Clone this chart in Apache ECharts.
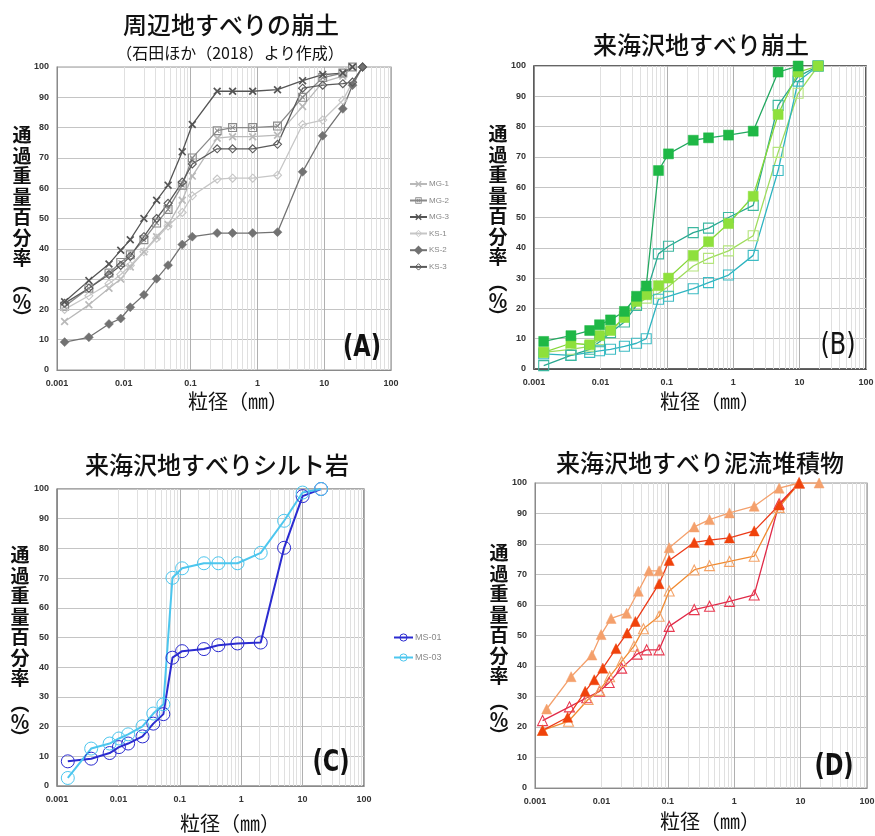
<!DOCTYPE html>
<html>
<head>
<meta charset="utf-8">
<script src="https://cdn.jsdelivr.net/npm/echarts@6/dist/echarts.min.js"></script>
<style>
html, body { margin: 0; padding: 0; background: #fff; }
#chart { width: 875px; height: 836px; }
</style>
</head>
<body>
<div id="chart"></div>
<script>
// ---- grain size (mm) and percent passing ----
// (A) nearby landslide debris
const sizesA = [0.0013, 0.003, 0.006, 0.009, 0.0125, 0.02, 0.031, 0.046, 0.075, 0.106, 0.25, 0.425, 0.85, 2, 4.75, 9.5, 19, 26.5, 37.5];
const mg1 = [16, 21.5, 27, 30, 34, 39, 44, 48, 56, 64, 76.5, 77, 77, 77.5, 87, 95, 97, 100];
const mg2 = [21, 27, 32, 35.5, 38, 43, 48.5, 53, 61, 70, 79, 80, 80, 80.5, 90, 96.5, 98, 100];
const mg3 = [22.5, 29.5, 35, 39.5, 43, 50, 56, 61, 72, 81, 92, 92, 92, 92.5, 95.5, 97.5, 98, 100];
const ks1 = [20, 24.5, 28.5, 31.5, 34.5, 39, 43.5, 47.5, 52, 57.5, 63, 63.3, 63.3, 64.3, 81, 82.5, 89, 95, 100];
const ks2 = [9.2, 10.8, 15.2, 17, 20.7, 24.8, 30.1, 34.6, 41.4, 44, 45.2, 45.2, 45.2, 45.5, 65.4, 77.3, 86.2, 94, 100];
const ks3 = [22, 27, 31.5, 34.5, 37.5, 44, 50, 55, 62, 68, 73, 73, 73, 74.5, 93, 94, 94.5, 95, 100];

// (B) Kimizawa landslide debris
const sizesB = [0.0014, 0.0036, 0.0069, 0.0097, 0.0142, 0.023, 0.035, 0.049, 0.075, 0.106, 0.25, 0.425, 0.85, 2, 4.75, 9.5, 19];
const kd1 = [9.1, 11, 12.7, 14.6, 16.2, 19, 24, 27.4, 65.5, 71, 75.5, 76.3, 77.2, 78.5, 98, 100];
const kd2 = [5.5, 8.5, 8, 11, 12.7, 17, 22.3, 24.5, 27.5, 30, 37.5, 42, 48, 57, 84, 98, 100];
const kd3 = [1.1, 4.5, 6.5, 9, 12, 15.5, 21, 25, 38, 40.5, 45, 46.5, 50, 54, 87, 96.5, 100];
const kd4 = [5.5, 6.5, 7.5, 9.7, 12, 17.3, 21.2, 23.4, 25, 27.2, 34, 36.5, 39, 44, 71.5, 91, 100];
const kd5 = [5, 4.5, 5.5, 6, 6.5, 7.5, 8.5, 10, 23, 24, 26.5, 28.5, 31, 37.5, 65.5, 95, 100];

// (C) siltstone
const sizesC = [0.0015, 0.0036, 0.0072, 0.0102, 0.0144, 0.0247, 0.037, 0.054, 0.076, 0.109, 0.247, 0.425, 0.87, 2.08, 5.0, 10, 20];
const ms01 = [8.3, 9.2, 11.1, 13.1, 14.3, 16.7, 21, 24.2, 43.2, 45.4, 46.1, 47.4, 48, 48.3, 80.2, 97.6, 100];
const ms03 = [2.7, 12.6, 14.3, 16, 17.4, 20.1, 24.4, 27.5, 70.1, 73.3, 75, 75, 75, 78.5, 89.3, 98.8, 100];

// (D) mudflow deposits
const sizesD1 = [0.0015, 0.0035, 0.0072, 0.0099, 0.014, 0.024, 0.036, 0.052, 0.074, 0.105, 0.25, 0.425, 0.85, 2, 4.75, 9.5, 19];
const md1 = [25.9, 36.5, 43.6, 50.3, 55.6, 57.3, 64.5, 71.2, 71.2, 78.8, 85.6, 88, 90.2, 92.4, 98.3, 100, 100];
const sizesD2 = [0.0013, 0.0031, 0.0057, 0.0078, 0.0105, 0.0166, 0.0244, 0.0325, 0.074, 0.105, 0.25, 0.425, 0.85, 2, 4.75, 9.5];
const md2 = [18.9, 23.2, 31.7, 35.5, 39.3, 45.7, 50.8, 54.6, 67, 74.6, 80.5, 81.3, 82, 84.3, 92.8, 100];
const sizesD3 = [0.0013, 0.0032, 0.0063, 0.0094, 0.0133, 0.0202, 0.031, 0.043, 0.074, 0.105, 0.25, 0.425, 0.85, 2, 4.75, 9.5];
const md3 = [18.9, 21.9, 29, 32, 36.5, 41.5, 46.5, 52.2, 56.3, 64.6, 71.5, 72.9, 74.3, 76, 92, 100];
const sizesD4 = [0.0013, 0.0033, 0.006, 0.0094, 0.0131, 0.0202, 0.0345, 0.048, 0.074, 0.105, 0.25, 0.425, 0.85, 2, 4.75, 9.5];
const md4 = [22.1, 26.6, 29.6, 31.7, 34.6, 39.3, 43.9, 45.3, 45.3, 53, 58.5, 59.6, 61.2, 63.3, 93.2, 100];

// axis range and labels
const xMin = 0.001, xMax = 100;
const yTicks = [0, 10, 20, 30, 40, 50, 60, 70, 80, 90, 100];

// ---- text ----
const titleA = '周辺地すべりの崩土';
const subTitleA = '（石田ほか（2018）より作成）';
const titleB = '来海沢地すべり崩土';
const titleC = '来海沢地すべりシルト岩';
const titleD = '来海沢地すべり泥流堆積物';
const yTitleChars = ['通', '過', '重', '量', '百', '分', '率', '︵', '％', '︶'];
const xTitle = '粒径（㎜）';
const panelTags = ['(A)', '(B)', '(C)', '(D)'];

// ---- layout ----
const grids = [
  { left: 57, top: 67, width: 334, height: 303 },
  { left: 534, top: 66, width: 332, height: 303 },
  { left: 57, top: 489, width: 307, height: 297 },
  { left: 535, top: 483, width: 332, height: 305 }
];
const borderColors = ['#9a9a9a', '#333333', '#555555', '#9a9a9a'];

const pairs = (xs, ys) => ys.map((y, i) => [xs[i], y]);

// minor log grid positions (2..9 in each decade)
const minorX = [];
for (let d = -3; d < 2; d++) {
  for (let m = 2; m <= 9; m++) minorX.push(+(m * Math.pow(10, d)).toPrecision(3));
}

const SYM_X = 'path://M0,1.5L1.5,0L5,3.5L8.5,0L10,1.5L6.5,5L10,8.5L8.5,10L5,6.5L1.5,10L0,8.5L3.5,5Z';
const SYM_XBOX = 'path://M0,0L10,0L10,10L0,10Z M1.3,1.3L1.3,8.7L8.7,8.7L8.7,1.3Z M2.2,3L3,2.2L5,4.2L7,2.2L7.8,3L5.8,5L7.8,7L7,7.8L5,5.8L3,7.8L2.2,7L4.2,5Z';
const CLEAR = 'rgba(255,255,255,0)';

// opt.hollow: outline-only marker, see-through like the plotted lines
function lineSeries(name, gi, data, color, symbol, size, opt) {
  opt = opt || {};
  const item = opt.hollow
    ? { color: CLEAR, borderColor: color, borderWidth: opt.borderWidth || 1.1 }
    : { color: color, borderColor: color, borderWidth: opt.borderWidth !== undefined ? opt.borderWidth : 0.5 };
  return {
    name: name,
    type: 'line',
    xAxisIndex: gi,
    yAxisIndex: gi,
    data: data,
    symbol: symbol,
    symbolSize: size,
    showSymbol: true,
    lineStyle: { color: opt.lineColor || color, width: opt.lineWidth || 1.3 },
    itemStyle: item,
    emphasis: { disabled: true },
    animation: false,
    z: 3
  };
}

// light minor gridlines for each panel
function minorGrid(gi) {
  return {
    type: 'line', xAxisIndex: gi, yAxisIndex: gi, data: [], silent: true, animation: false,
    z: 1,
    markLine: {
      silent: true, animation: false, symbol: ['none', 'none'], z: 1,
      label: { show: false },
      lineStyle: { color: '#e0e0e0', width: 1, type: 'solid' },
      emphasis: { disabled: true },
      data: minorX.map(v => ({ xAxis: v }))
    }
  };
}

const xAxes = grids.map((g, i) => ({
  type: 'log', logBase: 10, gridIndex: i, min: xMin, max: xMax,
  axisLine: { show: true, lineStyle: { color: i === 1 ? '#555' : '#8a8a8a', width: 1 } },
  axisTick: { show: false },
  splitLine: { show: true, lineStyle: { color: '#b0b0b0', width: 1 } },
  axisLabel: {
    fontSize: 9, color: '#333', fontWeight: 'bold', fontFamily: 'Liberation Sans, Arial, sans-serif', margin: 9,
    formatter: v => String(parseFloat((+v).toPrecision(2)))
  }
}));

const yAxes = grids.map((g, i) => ({
  type: 'value', gridIndex: i, min: yTicks[0], max: yTicks[yTicks.length - 1], interval: 10,
  axisLine: { show: true, lineStyle: { color: '#8a8a8a', width: 1 } },
  axisTick: { show: false },
  splitLine: { show: true, lineStyle: { color: '#c4c4c4', width: 1 } },
  axisLabel: { fontSize: 9, color: '#333', fontWeight: 'bold', fontFamily: 'Liberation Sans, Arial, sans-serif', margin: 8 }
}));

const series = [
  minorGrid(0), minorGrid(1), minorGrid(2), minorGrid(3),
  // (A)
  lineSeries('MG-1', 0, pairs(sizesA, mg1), '#b9b9b9', SYM_X, 8, { borderWidth: 0 }),
  lineSeries('MG-2', 0, pairs(sizesA, mg2), '#8a8a8a', SYM_XBOX, 9, { borderWidth: 0 }),
  lineSeries('MG-3', 0, pairs(sizesA, mg3), '#555555', SYM_X, 8, { borderWidth: 0 }),
  lineSeries('KS-1', 0, pairs(sizesA, ks1), '#c6c6c6', 'diamond', 8, { hollow: true }),
  lineSeries('KS-2', 0, pairs(sizesA, ks2), '#727272', 'diamond', 9),
  lineSeries('KS-3', 0, pairs(sizesA, ks3), '#5a5a5a', 'diamond', 8, { hollow: true }),
  // (B)
  lineSeries('KD-4', 1, pairs(sizesB, kd4), '#b4e47c', 'rect', 10, { lineColor: '#9edc5c', hollow: true }),
  lineSeries('KD-5', 1, pairs(sizesB, kd5), '#3cbcc4', 'rect', 10, { lineColor: '#2eb4c0', hollow: true }),
  lineSeries('KD-3', 1, pairs(sizesB, kd3), '#3cb8a0', 'rect', 10, { lineColor: '#2aa890', hollow: true }),
  lineSeries('KD-2', 1, pairs(sizesB, kd2), '#8ee03c', 'rect', 10, { lineColor: '#86d838' }),
  lineSeries('KD-1', 1, pairs(sizesB, kd1), '#1fb846', 'rect', 10, { lineColor: '#22a860' }),
  // (C)
  lineSeries('MS-01', 2, pairs(sizesC, ms01), '#2b2bd0', 'circle', 13, { lineWidth: 2, hollow: true, borderWidth: 1 }),
  lineSeries('MS-03', 2, pairs(sizesC, ms03), '#4cc6ee', 'circle', 13, { lineWidth: 2, hollow: true, borderWidth: 1 }),
  // (D)
  lineSeries('MD-4', 3, pairs(sizesD4, md4), '#e83a50', 'triangle', 10, { lineColor: '#e02a48', hollow: true }),
  lineSeries('MD-3', 3, pairs(sizesD3, md3), '#f4a46a', 'triangle', 10, { lineColor: '#f08a30', hollow: true }),
  lineSeries('MD-1', 3, pairs(sizesD1, md1), '#f4a06c', 'triangle', 10, { lineColor: '#f4a06c' }),
  lineSeries('MD-2', 3, pairs(sizesD2, md2), '#f0420c', 'triangle', 10, { lineColor: '#ec3a18' })
];

// ---- graphic texts ----
const CJK = '"Noto Sans CJK JP", "Noto Sans CJK SC", sans-serif';
const graphics = [];
function addText(text, x, y, size, opt) {
  opt = opt || {};
  graphics.push({
    type: 'text', x: x, y: y, silent: true, z: 10,
    scaleX: opt.scaleX || 1,
    style: {
      text: text, fontSize: size, fontFamily: opt.family || CJK,
      fontWeight: opt.weight || 'normal', fill: opt.color || '#111',
      textAlign: 'center', textVerticalAlign: 'middle'
    }
  });
}
addText(titleA, 231, 25, 24, { weight: 500 });
addText(subTitleA, 230, 53, 16);
addText(titleB, 701, 45, 24, { weight: 500 });
addText(titleC, 217, 465, 24, { weight: 500 });
addText(titleD, 700, 463, 24, { weight: 500 });

const yTitleOffsets = [0, 20.5, 41, 61.5, 82, 102.5, 123, 149, 167, 183];
function yTitle(x, y0) {
  yTitleChars.forEach((c, i) => addText(c, x, y0 + yTitleOffsets[i], 19, { weight: 'bold' }));
}
yTitle(22, 135);
yTitle(498, 134);
yTitle(20, 555);
yTitle(499, 553);

addText(xTitle, 238, 401, 20);
addText(xTitle, 710, 401, 20);
addText(xTitle, 230, 823, 20);
addText(xTitle, 710, 821, 20);

const TAG = '"DejaVu Sans", sans-serif';
addText(panelTags[0], 362, 348, 30, { family: TAG, weight: 'bold', scaleX: 0.75 });
addText(panelTags[1], 838, 346, 30, { family: TAG, weight: 'normal', scaleX: 0.8 });
addText(panelTags[2], 331, 763, 30, { family: TAG, weight: 'bold', scaleX: 0.75 });
addText(panelTags[3], 834, 767, 30, { family: TAG, weight: 'bold', scaleX: 0.75 });

// legend entries; outline-only markers keep a clear centre
const legendItem = (name, hollowColor) => hollowColor
  ? { name: name, itemStyle: { color: CLEAR, borderColor: hollowColor, borderWidth: 1 } }
  : { name: name };

const option = {
  backgroundColor: '#ffffff',
  animation: false,
  grid: grids.map((g, i) => Object.assign({
    show: true, borderColor: borderColors[i], borderWidth: i === 1 ? 1.6 : 1.2,
    backgroundColor: '#ffffff', containLabel: false, outerBoundsMode: 'none'
  }, g)),
  xAxis: xAxes,
  yAxis: yAxes,
  legend: [
    {
      data: [legendItem('MG-1'), legendItem('MG-2'), legendItem('MG-3'),
             legendItem('KS-1', '#c6c6c6'), legendItem('KS-2'), legendItem('KS-3', '#5a5a5a')],
      orient: 'vertical', left: 404, top: 175, itemGap: 8.5,
      itemWidth: 17, itemHeight: 8, selectedMode: false,
      textStyle: { fontSize: 8, color: '#888', fontFamily: 'Liberation Sans, Arial, sans-serif', padding: [0, 0, 0, -3] }
    },
    {
      data: [legendItem('MS-01', '#2b2bd0'), legendItem('MS-03', '#4cc6ee')],
      orient: 'vertical', left: 388, top: 628, itemGap: 11,
      itemWidth: 19, itemHeight: 9, selectedMode: false,
      textStyle: { fontSize: 9, color: '#888', fontFamily: 'Liberation Sans, Arial, sans-serif', padding: [0, 0, 0, -3] }
    }
  ],
  series: series,
  graphic: graphics
};

const chart = echarts.init(document.getElementById('chart'), null, { renderer: 'canvas' });
chart.setOption(option);
</script>
</body>
</html>
